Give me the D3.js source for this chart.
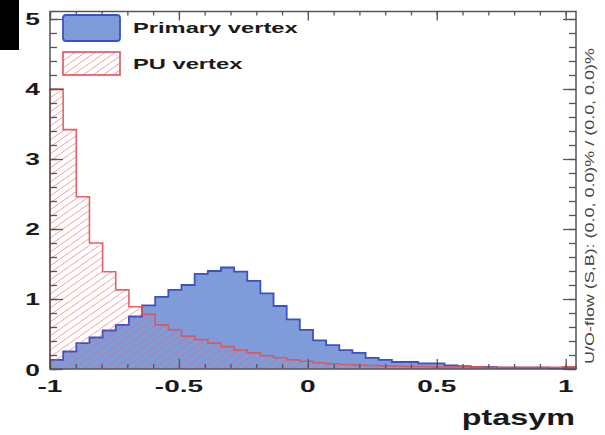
<!DOCTYPE html>
<html>
<head>
<meta charset="utf-8">
<script src="https://cdn.jsdelivr.net/npm/d3@7"></script>
<style>
  body { margin: 0; background: #fff; }
  text { font-family: "Liberation Sans", Arial, Helvetica, sans-serif; }
</style>
</head>
<body>
<svg id="chart" width="605" height="435"></svg>
<script>
// histogram binning (TMVA style, range a bit past 1)
const binLo = -1, binHi = 1.04, nBins = 40;

// normalised bin contents
const primaryVertex = [
  0.13, 0.25, 0.37, 0.45, 0.55, 0.63, 0.75, 0.91, 1.03, 1.13,
  1.20, 1.36, 1.40, 1.45, 1.39, 1.26, 1.08, 0.90, 0.71, 0.56,
  0.41, 0.34, 0.27, 0.23, 0.16, 0.13, 0.10, 0.10, 0.08, 0.08,
  0.05, 0.04, 0.03, 0.03, 0.02, 0.02, 0.02, 0.02, 0.01, 0.02
];
const puVertex = [
  4.00, 3.42, 2.46, 1.80, 1.39, 1.13, 0.89, 0.78, 0.63, 0.56,
  0.47, 0.42, 0.37, 0.32, 0.27, 0.23, 0.19, 0.16, 0.13, 0.11,
  0.09, 0.075, 0.065, 0.055, 0.05, 0.045, 0.04, 0.035, 0.035, 0.03,
  0.03, 0.03, 0.03, 0.025, 0.025, 0.025, 0.025, 0.025, 0.025, 0.03
];

const xTicks = [-1, -0.5, 0, 0.5, 1];
const xTickLabels = ["-1", "-0.5", "0", "0.5", "1"];
const yTicks = [0, 1, 2, 3, 4, 5];
const yTickLabels = ["0", "1", "2", "3", "4", "5"];
const legendLabels = ["Primary vertex", "PU vertex"];
const xTitle = "ptasym";
const flowNote = "U/O-flow (S,B): (0.0, 0.0)% / (0.0, 0.0)%";

const svg = d3.select("#chart");

// frame
const frameL = 50, frameR = 576, frameT = 11.5, frameB = 369;

const x = d3.scaleLinear().domain([binLo, binHi]).range([frameL, frameR]);
const y = d3.scaleLinear().domain([0, 5.107]).range([frameB, frameT]);

const edges = d3.range(nBins + 1).map(i => binLo + i * (binHi - binLo) / nBins);

function stepPoints(vals) {
  const pts = [[edges[0], 0]];
  vals.forEach((v, i) => pts.push([edges[i], v]));
  pts.push([edges[nBins], 0]);
  return pts;
}

const area = d3.area()
  .x(d => x(d[0]))
  .y0(y(0))
  .y1(d => y(d[1]))
  .curve(d3.curveStepAfter);

const line = d3.line()
  .x(d => x(d[0]))
  .y(d => y(d[1]))
  .curve(d3.curveStepAfter);

// black corner block
svg.append("rect").attr("x", 0).attr("y", 0).attr("width", 19).attr("height", 50).attr("fill", "#000");

// hatch pattern for PU
const defs = svg.append("defs");
const hatch = defs.append("pattern")
  .attr("id", "hatch")
  .attr("patternUnits", "userSpaceOnUse")
  .attr("width", 10).attr("height", 7);
hatch.append("path")
  .attr("d", "M0,7 L10,0 M-10,7 L0,0 M10,7 L20,0")
  .attr("stroke", "#e8606a")
  .attr("stroke-opacity", 0.6)
  .attr("stroke-width", 1);

const blueFill = "#7f9bd8", blueLine = "#3c50c8";
const redLine = "#e4505a";

// primary vertex
svg.append("path")
  .attr("d", area(stepPoints(primaryVertex)))
  .attr("fill", blueFill);
svg.append("path")
  .attr("d", line(stepPoints(primaryVertex)))
  .attr("fill", "none")
  .attr("stroke", blueLine)
  .attr("stroke-width", 1.8);

// PU vertex
svg.append("path")
  .attr("d", area(stepPoints(puVertex)))
  .attr("fill", "url(#hatch)");
svg.append("path")
  .attr("d", line(stepPoints(puVertex)))
  .attr("fill", "none")
  .attr("stroke", redLine)
  .attr("stroke-opacity", 0.9)
  .attr("stroke-width", 1.6);

// axes (ticks only, frame drawn below)
const axisColor = "#555";
const xMinor = d3.range(-1, 1.0001, 0.1);
const yMinor = d3.range(0, 5.0001, 0.2);

function addAxis(axis, tx, ty) {
  const g = svg.append("g").attr("transform", `translate(${tx},${ty})`).call(axis);
  g.select(".domain").remove();
  g.selectAll("line").attr("stroke", axisColor).attr("stroke-width", 1.3);
  g.selectAll("text").remove();
}
addAxis(d3.axisBottom(x).tickValues(xMinor).tickSize(-5), 0, frameB);
addAxis(d3.axisBottom(x).tickValues(xTicks).tickSize(-10), 0, frameB);
addAxis(d3.axisTop(x).tickValues(xMinor).tickSize(-4), 0, frameT);
addAxis(d3.axisTop(x).tickValues(xTicks).tickSize(-9), 0, frameT);
addAxis(d3.axisLeft(y).tickValues(yMinor).tickSize(-7), frameL, 0);
addAxis(d3.axisLeft(y).tickValues(yTicks).tickSize(-13), frameL, 0);
addAxis(d3.axisRight(y).tickValues(yMinor).tickSize(-7), frameR, 0);
addAxis(d3.axisRight(y).tickValues(yTicks).tickSize(-13), frameR, 0);

svg.append("rect")
  .attr("x", frameL).attr("y", frameT)
  .attr("width", frameR - frameL).attr("height", frameB - frameT)
  .attr("fill", "none")
  .attr("stroke", axisColor)
  .attr("stroke-width", 1.5);

// text helper: the source image is stretched sideways
function stretchText(str, tx, ty, opt) {
  return svg.append("text")
    .attr("transform", `translate(${tx},${ty}) rotate(${opt.rotate || 0}) scale(${opt.sx || 1},1)`)
    .attr("text-anchor", opt.anchor || "start")
    .attr("font-size", opt.size)
    .attr("font-weight", opt.weight || "bold")
    .attr("fill", opt.fill || "#1a1a1a")
    .text(str);
}

yTicks.forEach((v, i) => {
  stretchText(yTickLabels[i], 40, y(v) + 6.5, { anchor: "end", size: 17, sx: 1.55 });
});
xTicks.forEach((v, i) => {
  stretchText(xTickLabels[i], x(v), 392, { anchor: "middle", size: 16, sx: 1.75 });
});
stretchText(xTitle, 575, 425, { anchor: "end", size: 22, sx: 1.47 });
stretchText(flowNote, 594, 206, { anchor: "middle", size: 13, sx: 1.38, rotate: -90, weight: "normal", fill: "#444" });

// legend
svg.append("rect")
  .attr("x", 63).attr("y", 15).attr("width", 57).attr("height", 26).attr("rx", 3)
  .attr("fill", blueFill).attr("stroke", blueLine).attr("stroke-width", 1.8);
svg.append("rect")
  .attr("x", 63).attr("y", 52).attr("width", 57).attr("height", 23)
  .attr("fill", "url(#hatch)").attr("stroke", redLine).attr("stroke-width", 1.6);
stretchText(legendLabels[0], 133, 32.5, { size: 15, sx: 1.58 });
stretchText(legendLabels[1], 133, 69, { size: 15, sx: 1.58 });
</script>
</body>
</html>
